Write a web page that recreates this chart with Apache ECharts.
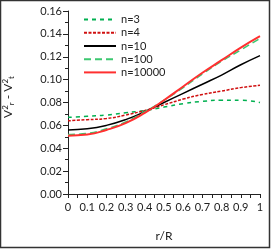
<!DOCTYPE html>
<html><head><meta charset="utf-8">
<script src="https://cdn.jsdelivr.net/npm/echarts@6/dist/echarts.min.js"></script>
<style>html,body{margin:0;padding:0;background:#fff}#c{width:273px;height:250px}</style>
</head><body><div id="c"></div>
<script>
const rValues = [0, 0.1, 0.2, 0.3, 0.4, 0.5, 0.6, 0.7, 0.8, 0.9, 1];
const seriesNames = ['n=3', 'n=4', 'n=10', 'n=100', 'n=10000'];
const n3 = [0.067, 0.068, 0.069, 0.071, 0.073, 0.076, 0.079, 0.081, 0.082, 0.082, 0.080];
const n4 = [0.064, 0.065, 0.066, 0.069, 0.073, 0.078, 0.083, 0.087, 0.090, 0.093, 0.095];
const n10 = [0.056, 0.057, 0.060, 0.065, 0.072, 0.080, 0.088, 0.096, 0.104, 0.113, 0.121];
const n100 = [0.052, 0.053, 0.057, 0.063, 0.072, 0.082, 0.093, 0.105, 0.116, 0.126, 0.136];
const n10000 = [0.051, 0.052, 0.056, 0.062, 0.071, 0.082, 0.094, 0.106, 0.117, 0.128, 0.138];
const allValues = [n3, n4, n10, n100, n10000];
const styles = [
  {color: '#00b050', width: 1.5, type: [4, 4]},
  {color: '#d01010', width: 1.5, type: [3, 1.5]},
  {color: '#000000', width: 1.5, type: 'solid'},
  {color: '#3cc870', width: 1.5, type: [7, 4]},
  {color: '#ff3030', width: 2, type: 'solid'}
];
const font = 'Lato, "Open Sans", sans-serif';
const chart = echarts.init(document.getElementById('c'), null, {renderer: 'canvas'});
chart.setOption({
  animation: false,
  grid: {left: 68, right: 13, top: 11, bottom: 56},
  legend: {
    orient: 'vertical', left: 78, top: 9,
    itemWidth: 32, itemHeight: 14, itemGap: 2,
    itemStyle: {opacity: 0},
    textStyle: {fontFamily: font, fontSize: 11, color: '#222'},
    data: seriesNames
  },
  xAxis: {
    type: 'value', min: 0, max: 1, interval: 0.1,
    name: 'r/R', nameLocation: 'middle', nameGap: 36,
    nameTextStyle: {fontFamily: font, fontSize: 12, color: '#222'},
    axisLine: {lineStyle: {color: '#222', width: 1}},
    axisTick: {show: true, length: 4, lineStyle: {color: '#222'}},
    minorTick: {show: true, splitNumber: 2, length: 4, lineStyle: {color: '#222'}},
    splitLine: {show: false},
    axisLabel: {fontFamily: font, fontSize: 11, color: '#222', margin: 8,
      formatter: v => String(Math.round(v * 10) / 10)}
  },
  yAxis: {
    type: 'value', min: 0, max: 0.16, interval: 0.02,
    axisLine: {show: true, lineStyle: {color: '#222', width: 1}},
    axisTick: {show: true, length: 5, lineStyle: {color: '#222'}},
    minorTick: {show: true, splitNumber: 2, length: 3, lineStyle: {color: '#222'}},
    splitLine: {show: false},
    axisLabel: {fontFamily: font, fontSize: 11, color: '#222', margin: 6,
      formatter: v => v.toFixed(2)}
  },
  graphic: [
    {type: 'rect', shape: {x: 0.5, y: 0.5, width: 269, height: 247},
     style: {fill: 'none', stroke: '#333', lineWidth: 1.5}, silent: true},
    {type: 'text', x: 8, y: 97, rotation: Math.PI / 2, originX: 0, originY: 0,
     style: {
       text: '{v|V}{sp|2}{sb|r}{v| - V}{sp|2}{sb|t}',
       align: 'center', verticalAlign: 'middle',
       rich: {
         v: {fontFamily: font, fontSize: 12, fill: '#222', verticalAlign: 'middle'},
         sp: {fontFamily: font, fontSize: 8, fill: '#222', verticalAlign: 'top', padding: [0,0,6,0]},
         sb: {fontFamily: font, fontSize: 8, fill: '#222', verticalAlign: 'bottom', padding: [6,0,0,0]}
       }
     }}
  ],
  series: allValues.map((vals, i) => ({
    name: seriesNames[i], type: 'line', smooth: true, symbol: 'none',
    data: rValues.map((r, j) => [r, vals[j]]),
    lineStyle: styles[i], itemStyle: {color: styles[i].color}
  }))
});
</script></body></html>
